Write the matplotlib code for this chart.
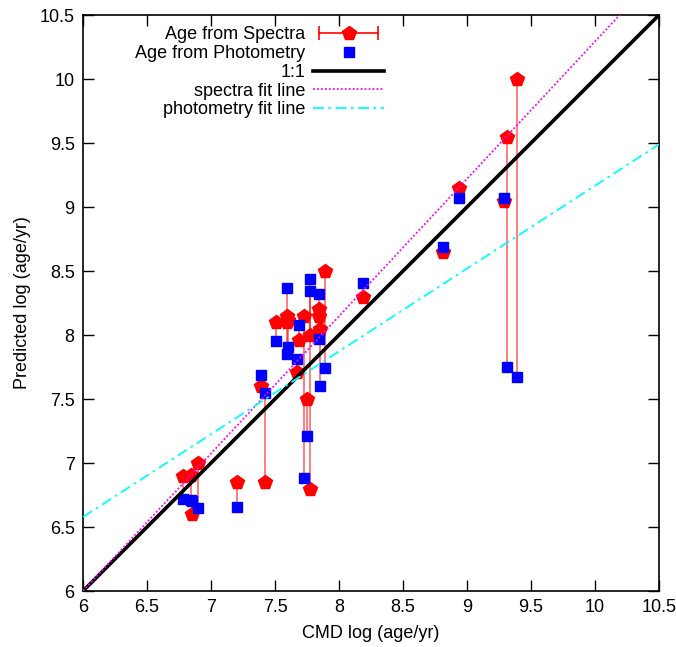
import matplotlib
matplotlib.use('Agg')
import matplotlib.pyplot as plt
from matplotlib.lines import Line2D
from matplotlib.legend_handler import HandlerLine2D
import numpy as np

plt.rcParams['font.family'] = ['Liberation Sans', 'DejaVu Sans']

# CMD ages (x), spectra ages and photometry ages for each cluster
cmd_age = [6.78, 6.84, 6.90, 6.85, 7.20, 7.42, 7.39, 7.51, 7.59, 7.59, 7.60,
           7.69, 7.67, 7.73, 7.75, 7.77, 7.77, 7.84, 7.84, 7.85, 7.89, 8.19,
           8.81, 8.94, 9.29, 9.31, 9.39]
spec_age = [6.90, 6.91, 7.00, 6.60, 6.85, 6.85, 7.60, 8.10, 8.15, 8.10, 8.12,
            7.96, 7.71, 8.15, 7.50, 8.00, 6.80, 8.20, 8.15, 8.05, 8.50, 8.30,
            8.65, 9.15, 9.05, 9.55, 10.00]
phot_age = [6.72, 6.71, 6.65, 6.70, 6.66, 7.55, 7.69, 7.95, 8.37, 7.85, 7.91,
            8.08, 7.81, 6.88, 7.21, 8.44, 8.34, 8.32, 7.97, 7.60, 7.74, 8.41,
            8.69, 9.07, 9.07, 7.75, 7.67]

# fit lines: (slope, intercept)
spec_fit = (1.073, -0.437)
phot_fit = (0.647, 2.696)

ticks = [6, 6.5, 7, 7.5, 8, 8.5, 9, 9.5, 10, 10.5]
tick_labels = ['6', '6.5', '7', '7.5', '8', '8.5', '9', '9.5', '10', '10.5']

fig = plt.figure(figsize=(6.76, 6.47), dpi=100)
ax = fig.add_axes([83 / 676, 1 - 591 / 647, 576 / 676, 576 / 647])

x = np.array(cmd_age)
s = np.array(spec_age)
p = np.array(phot_age)

# vertical bars from spectra age to photometry age
ax.vlines(x, np.minimum(s, p), np.maximum(s, p), color='red', alpha=0.55, lw=1.3, zorder=1)
ax.plot(x, s, linestyle='none', marker='p', markersize=10, color='red', zorder=2)
ax.plot(x, p, linestyle='none', marker='s', markersize=7, color='blue', zorder=3)

xx = np.array([6, 10.5])
ax.plot(xx, xx, color='black', lw=2.6, zorder=4)
ax.plot(xx, spec_fit[0] * xx + spec_fit[1], color='magenta', lw=1.3, linestyle=(0, (1, 1.2)), zorder=5)
ax.plot(xx, phot_fit[0] * xx + phot_fit[1], color='cyan', lw=1.3, linestyle=(0, (6, 2.5, 1.5, 2.5)), zorder=6)

ax.set_xlim(6, 10.5)
ax.set_ylim(6, 10.5)
ax.set_xticks(ticks)
ax.set_xticklabels(tick_labels)
ax.set_yticks(ticks)
ax.set_yticklabels(tick_labels)
ax.tick_params(direction='in', length=8, width=1, top=True, right=True, labelsize=13, pad=6)
for sp in ax.spines.values():
    sp.set_linewidth(1.2)
ax.set_xlabel('CMD log (age/yr)', fontsize=13, labelpad=6)
ax.set_ylabel('Predicted log (age/yr)', fontsize=13, labelpad=6)

# legend handles in gnuplot style
caps = Line2D([], [], color='red', lw=1.2, marker='|', markersize=10, markeredgewidth=1.2)
pent = Line2D([], [], color='red', linestyle='none', marker='p', markersize=10)
sq = Line2D([], [], color='blue', linestyle='none', marker='s', markersize=7)
one = Line2D([], [], color='black', lw=2.6)
sfit = Line2D([], [], color='magenta', lw=1.3, linestyle=(0, (1, 1.2)))
pfit = Line2D([], [], color='cyan', lw=1.3, linestyle=(0, (6, 2.5, 1.5, 2.5)))

ax.legend([(caps, pent), sq, one, sfit, pfit],
          ['Age from Spectra', 'Age from Photometry', '1:1', 'spectra fit line', 'photometry fit line'],
          handler_map={caps: HandlerLine2D(numpoints=2)},
          loc='upper left', bbox_to_anchor=(0.078, 0.993), borderaxespad=0,
          frameon=False, markerfirst=False,
          fontsize=13, handlelength=3.9, labelspacing=0.1, handletextpad=0.45)

fig.savefig('out.png', dpi=100)
